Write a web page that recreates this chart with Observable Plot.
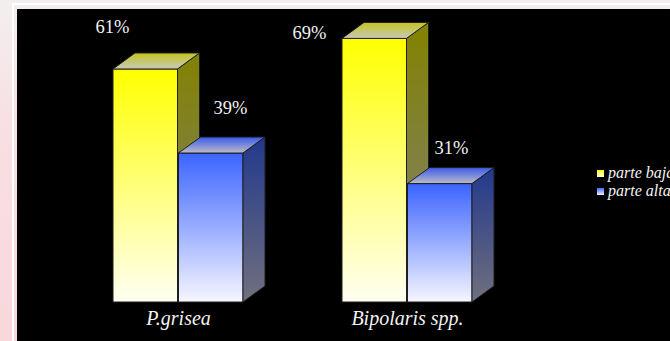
<!DOCTYPE html>
<html>
<head>
<meta charset="utf-8">
<script src="https://cdn.jsdelivr.net/npm/d3@7"></script>
<script src="https://cdn.jsdelivr.net/npm/@observablehq/plot@0.6"></script>
<style>
  html, body { margin: 0; padding: 0; }
  body {
    width: 670px; height: 341px; position: relative; overflow: hidden;
    background: linear-gradient(to bottom, #f3efef 0%, #f8e0e3 35%, #f9d7db 100%);
  }
  #frame { position: absolute; left: 12px; top: 3px; right: -4px; bottom: -4px;
           border-left: 2px solid #fff; border-top: 2px solid #fff; }
  #panel { position: absolute; left: 17px; top: 9px; right: 0; bottom: 0; background: #000; }
  #chart { position: absolute; left: 0; top: 0; }
  #chart svg text { font-family: "Liberation Serif", "Times New Roman", "DejaVu Serif", serif; }
  .legend-row { position: absolute; left: 597px; font-style: italic; font-size: 16px;
                font-family: "Liberation Serif", "Times New Roman", "DejaVu Serif", serif;
                color: #f4f4f4; white-space: nowrap; line-height: 16px; }
  .legend-row i { display: inline-block; width: 7px; height: 7px; margin-right: 4px; vertical-align: 1px; }
</style>
</head>
<body>
<div id="frame"></div>
<div id="panel"></div>
<div id="chart"></div>
<div class="legend-row" style="top:165px"><i style="background:linear-gradient(#ffff00,#ffffe8)"></i>parte baja</div>
<div class="legend-row" style="top:183px"><i style="background:linear-gradient(#3d66ff,#eef0ff)"></i>parte alta</div>
<script>
// Share of lesions by leaf zone, per pathogen
const categories = ["P.grisea", "Bipolaris spp."];
const series = ["parte baja", "parte alta"];
const parteBaja = [61, 69];
const parteAlta = [39, 31];

const rows = categories.flatMap((c, i) => [
  {category: c, series: series[0], value: parteBaja[i]},
  {category: c, series: series[1], value: parteAlta[i]}
]);

// Hand-placed value labels: pixel nudges from the top-centre of each group
const labelNudge = {
  "P.grisea|parte baja": [-66, -42],
  "P.grisea|parte alta": [52, -45],
  "Bipolaris spp.|parte baja": [-98, -6],
  "Bipolaris spp.|parte alta": [44, -36]
};

const halfBand = 65.5;   // each series fills half of the category band
const depthX = 22, depthY = 16;
const font = "Liberation Serif, Times New Roman, DejaVu Serif, serif";

const seriesStyle = {
  "parte baja": {front: ["#ffff00", "#fffff2"], side: ["#828200", "#808080"], top: ["#c4c41c", "#c8c8bc"]},
  "parte alta": {front: ["#3b64ff", "#f6f6ff"], side: ["#22388c", "#70707e"], top: ["#3b5ae8", "#bcbcc8"]}
};
const slug = s => s.replace(/\s+/g, "-");

const labelMarks = rows.map(r => {
  const [dx, dy] = labelNudge[`${r.category}|${r.series}`];
  return Plot.text([r], {
    x: "category", y: "value", text: d => `${d.value}%`,
    dx, dy, fill: "#f2f2f2", fontFamily: font, fontSize: 18.5
  });
});

const chart = Plot.plot({
  width: 670,
  height: 341,
  marginLeft: 43,
  marginRight: 128,
  marginTop: 15.5,
  marginBottom: 39,
  style: {background: "transparent", color: "white"},
  x: {domain: categories, paddingInner: 0.4304, paddingOuter: 0.3, axis: null},
  y: {domain: [0, 75], axis: null},
  marks: [
    Plot.barY(rows.filter(d => d.series === series[0]), {
      x: "category", y: "value", insetRight: halfBand,
      fill: `url(#front-${slug(series[0])})`, stroke: "#1e1e1e", strokeWidth: 1
    }),
    Plot.barY(rows.filter(d => d.series === series[1]), {
      x: "category", y: "value", insetLeft: halfBand,
      fill: `url(#front-${slug(series[1])})`, stroke: "#1e1e1e", strokeWidth: 1
    }),
    ...labelMarks,
    Plot.text(categories, {
      x: d => d, frameAnchor: "bottom", dy: 22,
      fill: "#f2f2f2", fontFamily: font, fontSize: 20, fontStyle: "italic"
    })
  ]
});

// Vertical gradients for the front, side and top faces of each series
const svg = d3.select(chart);
const defs = svg.insert("defs", ":first-child");
for (const s of series) {
  for (const face of ["front", "side", "top"]) {
    const [c0, c1] = seriesStyle[s][face];
    const g = defs.append("linearGradient").attr("id", `${face}-${slug(s)}`)
      .attr("x1", 0).attr("y1", 0).attr("x2", 0).attr("y2", 1);
    g.append("stop").attr("offset", 0).attr("stop-color", c0);
    g.append("stop").attr("offset", 1).attr("stop-color", c1);
  }
}

// Extrude each rendered bar into a box: side and top faces follow the front rect
svg.selectAll("g[aria-label='bar']").each(function (_, i) {
  const s = slug(series[i]);
  const group = d3.select(this);
  group.selectAll("rect").each(function () {
    const x = +this.getAttribute("x"), y = +this.getAttribute("y");
    const w = +this.getAttribute("width"), h = +this.getAttribute("height");
    const side = [[x + w, y], [x + w + depthX, y - depthY], [x + w + depthX, y + h - depthY], [x + w, y + h]];
    const top = [[x, y], [x + depthX, y - depthY], [x + w + depthX, y - depthY], [x + w, y]];
    group.append("polygon").attr("points", side.join(" "))
      .attr("fill", `url(#side-${s})`).attr("stroke", "#1e1e1e").attr("stroke-width", 1);
    group.append("polygon").attr("points", top.join(" "))
      .attr("fill", `url(#top-${s})`).attr("stroke", "#1e1e1e").attr("stroke-width", 1);
  });
});

document.getElementById("chart").append(chart);
</script>
</body>
</html>
